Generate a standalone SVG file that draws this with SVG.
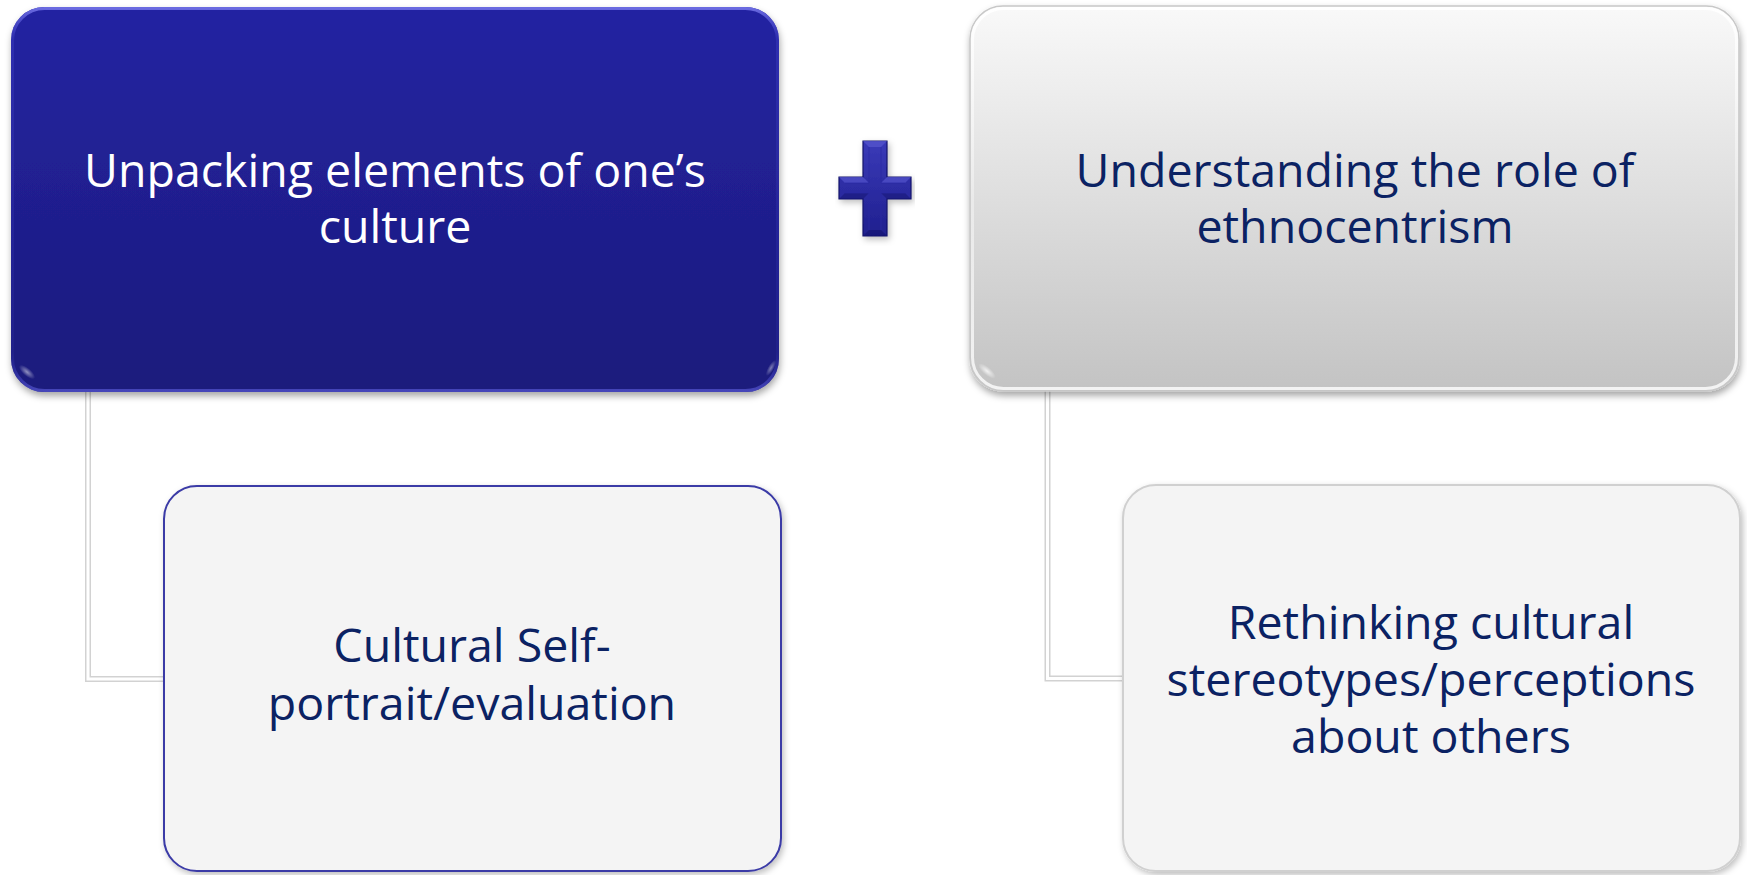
<svg xmlns="http://www.w3.org/2000/svg" width="1747" height="875" viewBox="0 0 1747 875">
  <style>
    .label { font-family: "Open Sans", "Noto Sans", "Liberation Sans", sans-serif; font-size: 46.5px; text-anchor: middle; }
    .light { fill: #0b2263; }
    .dark { fill: #ffffff; }
    .wire-out { fill: none; stroke: #d2d2d2; stroke-width: 6; }
    .wire-in { fill: none; stroke: #ffffff; stroke-width: 3; }
  </style>
  <defs>
    <linearGradient id="blueFill" x1="0" y1="0" x2="0" y2="1">
      <stop offset="0" stop-color="#2424a2"/>
      <stop offset="1" stop-color="#1b1a7c"/>
    </linearGradient>
    <linearGradient id="blueRim" x1="0" y1="0" x2="0" y2="1">
      <stop offset="0" stop-color="#6a6ae0"/>
      <stop offset="0.08" stop-color="#3a3ac0" stop-opacity="0.5"/>
      <stop offset="0.9" stop-color="#2a2aa0" stop-opacity="0.3"/>
      <stop offset="1" stop-color="#5050c8" stop-opacity="0.8"/>
    </linearGradient>
    <linearGradient id="silverFill" x1="0" y1="0" x2="0" y2="1">
      <stop offset="0" stop-color="#f9f9f9"/>
      <stop offset="1" stop-color="#c3c3c3"/>
    </linearGradient>
    <linearGradient id="silverRim" x1="0" y1="0" x2="0" y2="1">
      <stop offset="0" stop-color="#ffffff"/>
      <stop offset="0.5" stop-color="#f2f2f2" stop-opacity="0.6"/>
      <stop offset="1" stop-color="#ffffff" stop-opacity="0.8"/>
    </linearGradient>
    <linearGradient id="plusFill" x1="0" y1="0" x2="0" y2="1">
      <stop offset="0" stop-color="#3a3ab8"/>
      <stop offset="1" stop-color="#1f1f8e"/>
    </linearGradient>
    <radialGradient id="glint" cx="0.5" cy="0.5" r="0.5">
      <stop offset="0" stop-color="#ffffff" stop-opacity="0.85"/>
      <stop offset="1" stop-color="#ffffff" stop-opacity="0"/>
    </radialGradient>
    <filter id="shadow" x="-5%" y="-5%" width="110%" height="115%">
      <feDropShadow dx="1" dy="4" stdDeviation="3.5" flood-color="#000000" flood-opacity="0.35"/>
    </filter>
    <filter id="softShadow" x="-5%" y="-5%" width="110%" height="115%">
      <feDropShadow dx="2" dy="3" stdDeviation="3" flood-color="#000000" flood-opacity="0.25"/>
    </filter>
  </defs>

  <rect width="1747" height="875" fill="#ffffff"/>

  <!-- elbow links from parent boxes to their child boxes -->
  <g id="connectors">
    <path class="wire-out" d="M88,390 V679 H170"/>
    <path class="wire-in" d="M88,390 V679 H170"/>
    <path class="wire-out" d="M1047.5,390 V678.5 H1130"/>
    <path class="wire-in" d="M1047.5,390 V678.5 H1130"/>
  </g>

  <g id="node-unpacking">
    <rect x="11" y="7" width="768" height="385" rx="33" fill="url(#blueFill)" filter="url(#shadow)"/>
    <rect x="12.5" y="8.5" width="765" height="382" rx="32" fill="none" stroke="url(#blueRim)" stroke-width="3"/>
    <!-- corner glints on the bevel -->
    <ellipse cx="27" cy="372" rx="10" ry="4" transform="rotate(40 27 372)" fill="url(#glint)" opacity="0.6"/>
    <ellipse cx="771" cy="368" rx="9" ry="3" transform="rotate(-60 771 368)" fill="url(#glint)" opacity="0.5"/>
    <text class="label dark" x="395" y="187">Unpacking elements of one’s</text>
    <text class="label dark" x="395" y="243">culture</text>
  </g>

  <g id="node-plus">
    <g filter="url(#softShadow)">
      <polygon points="863,141 887,141 887,177 911,177 911,199 887,199 887,236 863,236 863,199 839,199 839,177 863,177" fill="url(#plusFill)" stroke="#15156a" stroke-width="1.2"/>
    </g>
    <!-- bevel facets -->
    <polygon points="863,141 887,141 881,147 869,147" fill="#5454cc" opacity="0.8"/>
    <polygon points="839,177 863,177 869,183 845,183" fill="#5454cc" opacity="0.7"/>
    <polygon points="887,177 911,177 905,183 881,183" fill="#5454cc" opacity="0.7"/>
    <polygon points="863,236 887,236 881,230 869,230" fill="#141470" opacity="0.6"/>
    <polygon points="839,199 863,199 869,193 845,193" fill="#141470" opacity="0.5"/>
    <polygon points="887,199 911,199 905,193 881,193" fill="#141470" opacity="0.5"/>
    <path d="M869,147 V183 H845 M881,147 V183 H905 M845,193 H869 V230 M905,193 H881 V230" fill="none" stroke="#2a2aa4" stroke-width="1" opacity="0.7"/>
  </g>

  <g id="node-ethnocentrism">
    <rect x="970" y="6" width="769" height="385" rx="33" fill="url(#silverFill)" stroke="#c8c8c8" stroke-width="1.5" filter="url(#shadow)"/>
    <rect x="972.5" y="8.5" width="764" height="380" rx="31" fill="none" stroke="url(#silverRim)" stroke-width="3"/>
    <ellipse cx="987" cy="371" rx="11" ry="4" transform="rotate(40 987 371)" fill="url(#glint)" opacity="0.9"/>
    <text class="label light" x="1355" y="187">Understanding the role of</text>
    <text class="label light" x="1355" y="243">ethnocentrism</text>
  </g>

  <g id="node-self-portrait">
    <rect x="164" y="486" width="617" height="385" rx="33" fill="#f4f4f4" stroke="#3a3aa6" stroke-width="2" filter="url(#softShadow)"/>
    <text class="label light" x="472" y="662">Cultural Self-</text>
    <text class="label light" x="472" y="720">portrait/evaluation</text>
  </g>

  <g id="node-stereotypes">
    <rect x="1123" y="485" width="617" height="386" rx="33" fill="#f4f4f4" stroke="#d0d0d0" stroke-width="2" filter="url(#softShadow)"/>
    <text class="label light" x="1431" y="639">Rethinking cultural</text>
    <text class="label light" x="1431" y="696">stereotypes/perceptions</text>
    <text class="label light" x="1431" y="753">about others</text>
  </g>
</svg>
